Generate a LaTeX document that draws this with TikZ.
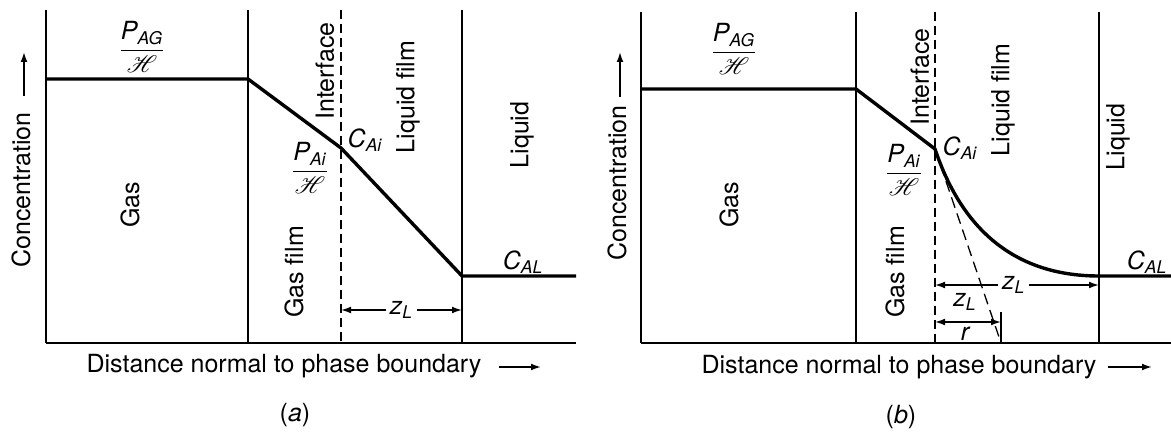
\documentclass[tikz,border=0pt]{standalone}
\usepackage{amsmath}
\usepackage{mathrsfs}
\usepackage{fontspec}
\setmainfont{TeX Gyre Heros}
\usetikzlibrary{arrows.meta}
\newcommand{\vi}[1]{\text{\itshape #1}}
\begin{document}
\begin{tikzpicture}[x=0.5pt,y=-0.5pt,
  every node/.style={font=\fontsize{12.5}{14}\selectfont, inner sep=0pt},
  thinline/.style={line width=0.75pt},
  axisline/.style={line width=1.1pt},
  profile/.style={line width=1.7pt, line join=miter},
  ifline/.style={line width=0.75pt, dash pattern=on 4.5pt off 2.5pt},
  tanline/.style={line width=0.65pt, dash pattern=on 5.5pt off 3pt},
  dimarrow/.style={line width=0.75pt, {Latex[length=5pt,width=3.4pt]}-{Latex[length=5pt,width=3.4pt]}},
  axarrow/.style={line width=0.8pt, -{Latex[length=5pt,width=3.4pt]}},
  vlabel/.style={rotate=90}]
\useasboundingbox (0,0) rectangle (1171,432);

% ================= panel (a) =================
\coordinate (aT1) at (46,10);   \coordinate (aB1) at (46,343);
\coordinate (aT2) at (248,10);  \coordinate (aB2) at (248,343);
\coordinate (aT3) at (341,10);  \coordinate (aB3) at (341,343);
\coordinate (aT4) at (462,10);  \coordinate (aB4) at (462,343);
\coordinate (aAE) at (576,343);
\draw[thinline] (aT1) -- (aB1);
\draw[thinline] (aT2) -- (aB2);
\draw[ifline] (aT3) -- (aB3);
\draw[thinline] (aT4) -- (aB4);
\draw[axisline] (aB1) -- (aAE);

\coordinate (aP0) at (46,79);
\coordinate (aP1) at (248,79);
\coordinate (aP2) at (341,148);
\coordinate (aP3) at (462,276);
\coordinate (aP4) at (576,276);
\draw[profile] (aP0) -- (aP1) -- (aP2) -- (aP3) -- (aP4);

\coordinate (aZl) at (341,310);
\coordinate (aZr) at (462,310);
\draw[dimarrow] (aZl) -- node[fill=white, inner xsep=2pt] (aZlab) {$\vi{z}_{\vi{L}}$} (aZr);

\node (aPAG) at (142,47) {$\dfrac{\vi{P}_{\vi{AG}}}{\mathscr{H}}$};
\node (aPAi) at (310,168) {$\dfrac{\vi{P}_{\vi{Ai}}}{\mathscr{H}}$};
\node (aCAi) at (365,140) {$\vi{C}_{\vi{Ai}}$};
\node (aCAL) at (523,262) {$\vi{C}_{\vi{AL}}$};

\node[vlabel] (aConc) at (21,190) {Concentration};
\coordinate (aCa0) at (24,96);
\coordinate (aCa1) at (24,52);
\draw[axarrow] (aCa0) -- (aCa1);
\node[vlabel] (aGas) at (130,205) {Gas};
\node[vlabel] (aGf) at (294,272) {Gas film};
\node[vlabel] (aIf) at (325,71) {Interface};
\node[vlabel] (aLf) at (408,97) {Liquid film};
\node[vlabel] (aLq) at (522,135) {Liquid};

\node (aDist) at (284,366) {Distance normal to phase boundary};
\coordinate (aDa0) at (499,367);
\coordinate (aDa1) at (541,367);
\draw[axarrow] (aDa0) -- (aDa1);
\node (aCap) at (295,415) {(\textit{a})};

% ================= panel (b) =================
\coordinate (bT1) at (641,12);   \coordinate (bB1) at (641,343);
\coordinate (bT2) at (856,12);   \coordinate (bB2) at (856,343);
\coordinate (bT3) at (935,12);   \coordinate (bB3) at (935,343);
\coordinate (bT4) at (1099,12);  \coordinate (bB4) at (1099,343);
\coordinate (bAE) at (1171,343);
\draw[thinline] (bT1) -- (bB1);
\draw[thinline] (bT2) -- (bB2);
\draw[ifline] (bT3) -- (bB3);
\draw[thinline] (bT4) -- (bB4);
\draw[axisline] (bB1) -- (bAE);

\coordinate (bP0) at (641,89);
\coordinate (bP1) at (856,89);
\coordinate (bP2) at (935,149);
\coordinate (bP3) at (1099,276);
\coordinate (bP4) at (1171,276);
\draw[profile] (bP0) -- (bP1) -- (bP2) .. controls (960,224) and (1010,276) .. (bP3) -- (bP4);

% tangent line
\coordinate (bTg) at (1000,340);
\draw[tanline] (bP2) -- (bTg);

% upper z_L dimension
\coordinate (bZl) at (935,285);
\coordinate (bZr) at (1099,285);
\draw[dimarrow] (bZl) -- node[pos=0.48, fill=white, inner xsep=2pt] (bZlab) {$\vi{z}_{\vi{L}}$} (bZr);

% lower z_L / r dimension
\coordinate (bRt) at (1001,312);
\coordinate (bRb) at (1001,343);
\draw[thinline] (bRt) -- (bRb);
\coordinate (bRl) at (935,322);
\coordinate (bRr) at (1001,322);
\draw[dimarrow] (bRl) -- (bRr);
\node (bRz) at (965,302) {$\vi{z}_{\vi{L}}$};
\node (bRr2) at (965,334) {$\vi{r}$};

\node (bPAG) at (734,49) {$\dfrac{\vi{P}_{\vi{AG}}}{\mathscr{H}}$};
\node (bPAi) at (904,170) {$\dfrac{\vi{P}_{\vi{Ai}}}{\mathscr{H}}$};
\node (bCAi) at (960,148) {$\vi{C}_{\vi{Ai}}$};
\node (bCAL) at (1147,262) {$\vi{C}_{\vi{AL}}$};

\node[vlabel] (bConc) at (617,183) {Concentration};
\coordinate (bCa0) at (620,97);
\coordinate (bCa1) at (620,52);
\draw[axarrow] (bCa0) -- (bCa1);
\node[vlabel] (bGas) at (729,205) {Gas};
\node[vlabel] (bGf) at (895,272) {Gas film};
\node[vlabel] (bIf) at (920,77) {Interface};
\node[vlabel] (bLf) at (1003,100) {Liquid film};
\node[vlabel] (bLq) at (1118,137) {Liquid};

\node (bDist) at (899,367) {Distance normal to phase boundary};
\coordinate (bDa0) at (1108,367);
\coordinate (bDa1) at (1152,367);
\draw[axarrow] (bDa0) -- (bDa1);
\node (bCap) at (901,417) {(\textit{b})};
\end{tikzpicture}
\end{document}
